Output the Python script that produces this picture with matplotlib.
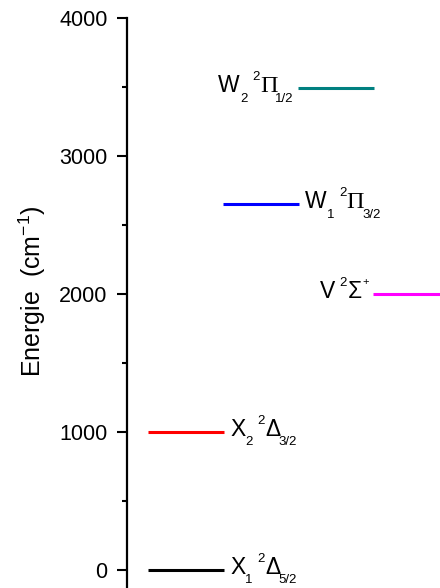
import matplotlib
matplotlib.use("Agg")
import matplotlib.pyplot as plt
from matplotlib.ticker import MultipleLocator
from matplotlib.transforms import offset_copy

plt.rcParams['font.family'] = ['Liberation Sans', 'DejaVu Sans']
plt.rcParams['mathtext.fontset'] = 'custom'
plt.rcParams['mathtext.rm'] = 'Liberation Sans'
plt.rcParams['mathtext.it'] = 'Liberation Sans:italic'

# energy levels (cm-1)
letters = ['X', 'X', 'W', 'W', 'V']
letter_sub = ['1', '2', '1', '2', '']
terms = ['Δ', 'Δ', 'Π', 'Π', 'Σ']
term_font = ['Liberation Sans', 'Liberation Sans', 'Liberation Serif', 'Liberation Serif', 'Liberation Sans']
term_sub = ['5/2', '3/2', '3/2', '1/2', '']
term_sup = ['', '', '', '', '+']
energies = [0, 1000, 2650, 3490, 2000]
slots = [0, 0, 1, 2, 3]
colors = ['black', 'red', 'blue', '#008080', 'magenta']
label_side = ['right', 'right', 'right', 'left', 'left']

fig = plt.figure(figsize=(4.4, 5.88), dpi=100)
ax = fig.add_axes([127 / 440, 0.0, 1 - 127 / 440, 1 - 18 / 588])
renderer = fig.canvas.get_renderer()

BIG, SMALL = 16.5, 9.5


def rich_label(x, y, parts, side, gap):
    # parts: (text, size, dy in points, family, extra space after)
    texts, dx = [], 0.0
    for s, size, dy, fam, after in parts:
        t = ax.text(x, y, s, fontsize=size, family=fam, va='baseline', ha='left',
                    transform=offset_copy(ax.transData, fig, dx, dy, units='points'))
        w = t.get_window_extent(renderer).width * 72 / fig.dpi
        texts.append((t, dx, dy))
        dx += w + after
    total = dx - parts[-1][4]
    shift = gap if side == 'right' else -gap - total
    for t, d, dy in texts:
        t.set_transform(offset_copy(ax.transData, fig, d + shift, dy, units='points'))


for i in range(len(energies)):
    s, e = slots[i], energies[i]
    x0, x1 = s + 0.28, s + 1.29
    ax.plot([x0, x1], [e, e], color=colors[i], lw=2.2, solid_capstyle='butt')
    base = -2.5
    parts = [(letters[i], BIG, base, 'Liberation Sans', 0.0)]
    if letter_sub[i]:
        parts.append((letter_sub[i], SMALL, base - 7, 'Liberation Sans', 3.5))
    else:
        parts[-1] = (letters[i], BIG, base, 'Liberation Sans', 3.5)
    parts.append(('2', SMALL, base + 8.5, 'Liberation Sans', 0.3))
    big_term = 17.5 if term_font[i] == 'Liberation Serif' else BIG
    if term_sub[i]:
        parts.append((terms[i], big_term, base, term_font[i], -1.5))
        parts.append((term_sub[i], SMALL, base - 7, 'Liberation Sans', 0))
    else:
        parts.append((terms[i], big_term, base, term_font[i], 0.5))
        parts.append((term_sup[i], 8, base + 9, 'Liberation Sans', 0))
    if label_side[i] == 'right':
        rich_label(x1, e, parts, 'right', 4.5)
    else:
        rich_label(x0, e, parts, 'left', 3.0)

ax.set_xlim(0, 313 / 75)
ax.set_ylim(-130, 4000)
ax.yaxis.set_major_locator(MultipleLocator(1000))
ax.yaxis.set_minor_locator(MultipleLocator(500))
ax.tick_params(axis='y', which='major', direction='out', length=7, width=1.5, labelsize=15.5, pad=7)
ax.tick_params(axis='y', which='minor', direction='out', length=3.5, width=1.5)
ax.set_xticks([])
for sp in ['top', 'right', 'bottom']:
    ax.spines[sp].set_visible(False)
ax.spines['left'].set_linewidth(1.6)
ax.patch.set_alpha(0)

fig.text(32 / 440, 1 - 291 / 588, r'Energie  (cm$^{\mathrm{-1}}$)', rotation=90,
         ha='center', va='center', fontsize=18)

fig.savefig('out.png', dpi=100)
